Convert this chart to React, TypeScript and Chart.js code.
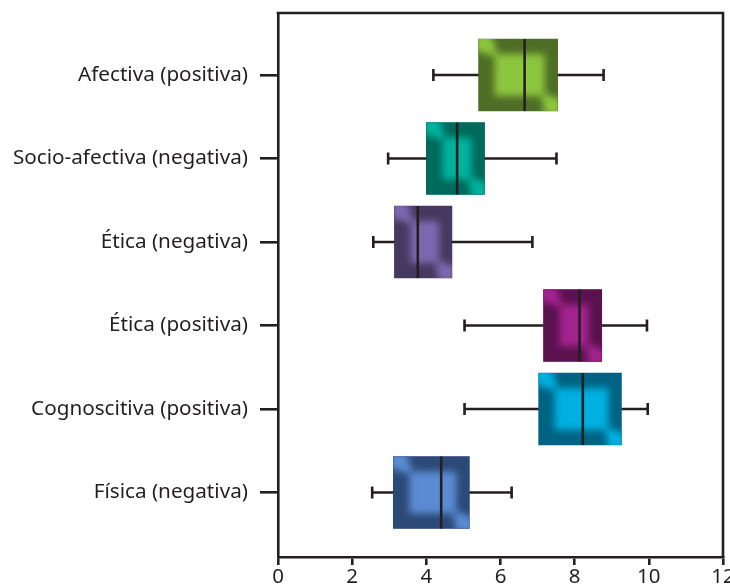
import React, { useEffect, useRef } from "react";
import { Chart, registerables } from "chart.js";

Chart.register(...registerables);

const categories = [
  "Afectiva (positiva)",
  "Socio-afectiva (negativa)",
  "Ética (negativa)",
  "Ética (positiva)",
  "Cognoscitiva (positiva)",
  "Física (negativa)",
];
const whiskerLow = [4.19, 2.97, 2.57, 5.03, 5.03, 2.54];
const q1 = [5.41, 4.0, 3.14, 7.16, 7.03, 3.11];
const median = [6.65, 4.83, 3.77, 8.13, 8.22, 4.4];
const q3 = [7.54, 5.57, 4.69, 8.73, 9.26, 5.16];
const whiskerHigh = [8.78, 7.51, 6.86, 9.95, 9.97, 6.3];
const lightColors = ["#8dc63f", "#00b39d", "#7d68b0", "#a3238e", "#00b0e0", "#5a8bd3"];
const darkColors = ["#4f6e25", "#006a5c", "#46395f", "#5a124f", "#006383", "#2c4a78"];
const xTicks = [0, 2, 4, 6, 8, 10, 12];

const INK = "#231f20";
const FONT = "'Noto Sans', sans-serif";

const boxPlugin = {
  id: "boxPlugin",
  afterDatasetsDraw(chart: any) {
    const ctx = chart.ctx;
    const meta = chart.getDatasetMeta(0);
    const xs = chart.scales.x;
    meta.data.forEach((el: any, i: number) => {
      const p = el.getProps(["x", "base", "y", "height"], true);
      const left = Math.min(p.x, p.base);
      const right = Math.max(p.x, p.base);
      const top = p.y - p.height / 2;
      const w = right - left;
      const h = p.height;
      // bevel effect
      ctx.save();
      ctx.beginPath();
      ctx.rect(left, top, w, h);
      ctx.clip();
      ctx.fillStyle = darkColors[i];
      ctx.fillRect(left, top, w, h);
      ctx.filter = "blur(3.5px)";
      ctx.fillStyle = lightColors[i];
      const il = left + 16, it = top + 15, ir = right - 13, ib = top + h - 15;
      ctx.fillRect(il, it, ir - il, ib - it);
      // top-left highlight
      ctx.beginPath();
      ctx.moveTo(left - 4, top - 4);
      ctx.lineTo(left + 13, top - 4);
      ctx.lineTo(il + 4, it + 4);
      ctx.lineTo(left - 4, top + 11);
      ctx.closePath();
      ctx.fill();
      // bottom-right highlight
      ctx.beginPath();
      ctx.moveTo(right + 4, top + h + 4);
      ctx.lineTo(right - 13, top + h + 4);
      ctx.lineTo(ir - 4, ib - 4);
      ctx.lineTo(right + 4, top + h - 11);
      ctx.closePath();
      ctx.fill();
      ctx.restore();

      // whiskers and median
      ctx.save();
      ctx.strokeStyle = INK;
      ctx.lineWidth = 2.6;
      const xl = xs.getPixelForValue(whiskerLow[i]);
      const xh = xs.getPixelForValue(whiskerHigh[i]);
      const cap = 6;
      ctx.beginPath();
      ctx.moveTo(xl, p.y);
      ctx.lineTo(left, p.y);
      ctx.moveTo(right, p.y);
      ctx.lineTo(xh, p.y);
      ctx.moveTo(xl, p.y - cap);
      ctx.lineTo(xl, p.y + cap);
      ctx.moveTo(xh, p.y - cap);
      ctx.lineTo(xh, p.y + cap);
      ctx.stroke();
      const xm = xs.getPixelForValue(median[i]);
      ctx.beginPath();
      ctx.moveTo(xm, top);
      ctx.lineTo(xm, top + h);
      ctx.stroke();
      ctx.restore();
    });
    // frame top and right
    const a = chart.chartArea;
    ctx.save();
    ctx.strokeStyle = INK;
    ctx.lineWidth = 2.6;
    ctx.beginPath();
    ctx.moveTo(a.left - 1.3, a.top);
    ctx.lineTo(a.right, a.top);
    ctx.lineTo(a.right, a.bottom);
    ctx.stroke();
    ctx.restore();
  },
};

export default function App() {
  const ref = useRef<HTMLCanvasElement>(null);
  useEffect(() => {
    if (!ref.current) return;
    const chart = new Chart(ref.current, {
      type: "bar",
      data: {
        datasets: [
          {
            data: categories.map((_, i) => ({ y: i, x: [q1[i], q3[i]] })) as any,
            backgroundColor: darkColors,
            borderWidth: 0,
            barThickness: 72,
          },
        ],
      },
      options: {
        indexAxis: "y",
        animation: false,
        responsive: true,
        maintainAspectRatio: false,
        layout: { padding: { top: 13, right: 7, left: 0, bottom: 0 } },
        plugins: { legend: { display: false }, tooltip: { enabled: false } },
        scales: {
          x: {
            type: "linear",
            min: 0,
            max: 12,
            afterBuildTicks: (s: any) => {
              s.ticks = xTicks.map((v) => ({ value: v }));
            },
            afterFit: (s: any) => {
              s.height = 28;
              s.paddingLeft = 0;
              s.paddingRight = 0;
            },
            grid: {
              drawOnChartArea: false,
              tickLength: 8,
              color: INK,
              lineWidth: 2.6,
            },
            border: { display: true, color: INK, width: 2.6 },
            ticks: {
              color: INK,
              font: { family: FONT, size: 20.5 },
              padding: 0,
              maxRotation: 0,
              autoSkip: false,
            },
          },
          y: {
            type: "linear",
            reverse: true,
            offset: false,
            min: -0.743,
            max: 5.772,
            afterBuildTicks: (s: any) => {
              s.ticks = categories.map((_, i) => ({ value: i }));
            },
            afterFit: (s: any) => {
              s.width = 278;
              s.paddingTop = 0;
              s.paddingBottom = 0;
            },
            grid: {
              offset: false,
              drawOnChartArea: false,
              tickLength: 18,
              color: INK,
              lineWidth: 2.6,
            },
            border: { display: true, color: INK, width: 2.6 },
            ticks: {
              color: INK,
              font: { family: FONT, size: 20.7 },
              padding: 12,
              autoSkip: false,
              callback: (v: any) => categories[v as number] ?? "",
            },
          },
        },
      },
      plugins: [boxPlugin],
    });
    return () => chart.destroy();
  }, []);
  return (
    <div style={{ position: "absolute", left: 0, top: 0, width: 730, height: 585 }}>
      <canvas ref={ref} />
    </div>
  );
}
